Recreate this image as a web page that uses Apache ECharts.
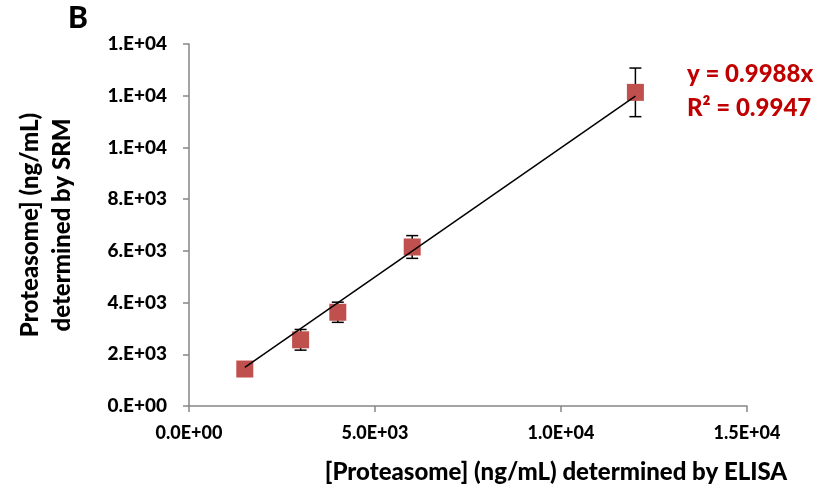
<!DOCTYPE html>
<html><head><meta charset="utf-8">
<script src="https://cdn.jsdelivr.net/npm/echarts@6/dist/echarts.min.js"></script>
<style>html,body{margin:0;padding:0;background:#fff}#c{width:834px;height:500px}</style>
</head><body><div id="c"></div>
<script>
// Data
const elisa = [1500, 3000, 4000, 6000, 12000];          // x: ELISA (ng/mL)
const srm = [1430, 2560, 3625, 6150, 12130];            // y: SRM (ng/mL)
const srmErr = [150, 400, 390, 440, 940];               // y error (+/-)
const trendX = [1500, 12000];                           // trend line extent
const slope = 0.9988;
const equationLines = ['y = 0.9988x', 'R\u00b2 = 0.9947'];
const yTickLabels = ['0.E+00', '2.E+03', '4.E+03', '6.E+03', '8.E+03', '1.E+04', '1.E+04', '1.E+04'];
const xTickLabels = ['0.0E+00', '5.0E+03', '1.0E+04', '1.5E+04'];

const FONT = 'Lato';
const W = 900;
const chart = echarts.init(document.getElementById('c'));
const axisLineStyle = { color: '#868686', width: 1.5 };

chart.setOption({
  animation: false,
  backgroundColor: '#fff',
  grid: { left: 189, right: 87, top: 44, bottom: 94 },
  xAxis: {
    type: 'value', min: 0, max: 15000, interval: 5000,
    axisLine: { show: true, lineStyle: axisLineStyle },
    axisTick: { show: true, length: 6, lineStyle: axisLineStyle },
    splitLine: { show: false },
    axisLabel: {
      fontFamily: FONT, fontWeight: W, fontSize: 18, color: '#000', margin: 18,
      formatter: v => xTickLabels[Math.round(v / 5000)]
    },
    name: '[Proteasome] (ng/mL) determined by ELISA',
    nameLocation: 'middle', nameGap: 54,
    nameTextStyle: { fontFamily: FONT, fontWeight: W, fontSize: 24, color: '#000', padding: [0, 0, 0, 176] }
  },
  yAxis: {
    type: 'value', min: 0, max: 14000, interval: 2000,
    axisLine: { show: true, lineStyle: axisLineStyle },
    axisTick: { show: true, length: 6, lineStyle: axisLineStyle },
    splitLine: { show: false },
    axisLabel: {
      fontFamily: FONT, fontWeight: W, fontSize: 19, color: '#000', margin: 22,
      formatter: v => yTickLabels[Math.round(v / 2000)]
    },
    name: 'Proteasome] (ng/mL)\ndetermined by SRM',
    nameLocation: 'middle', nameRotate: 90, nameGap: 111,
    nameTextStyle: { fontFamily: FONT, fontWeight: W, fontSize: 24, lineHeight: 32, color: '#000' }
  },
  graphic: [
    { type: 'text', left: 68, top: 3, style: { text: 'B', fontFamily: FONT, fontWeight: W, fontSize: 30, fill: '#000' } },
    { type: 'text', left: 687, top: 57, style: { text: equationLines.join('\n'), fontFamily: FONT, fontWeight: W, fontSize: 24, lineHeight: 34, fill: '#c00000' } }
  ],
  series: [
    {
      type: 'custom', z: 2,
      data: elisa.map((x, i) => [x, srm[i], srmErr[i]]),
      renderItem: function (params, api) {
        const x = api.value(0), y = api.value(1), e = api.value(2);
        const t = api.coord([x, y + e]);
        const b = api.coord([x, y - e]);
        const hw = 6;
        const st = { stroke: '#000', lineWidth: 1.5 };
        return {
          type: 'group', children: [
            { type: 'line', shape: { x1: t[0], y1: t[1], x2: b[0], y2: b[1] }, style: st },
            { type: 'line', shape: { x1: t[0] - hw, y1: t[1], x2: t[0] + hw, y2: t[1] }, style: st },
            { type: 'line', shape: { x1: b[0] - hw, y1: b[1], x2: b[0] + hw, y2: b[1] }, style: st }
          ]
        };
      }
    },
    {
      type: 'scatter', z: 3, symbol: 'rect', symbolSize: 17,
      itemStyle: { color: '#c0504d', opacity: 1 },
      data: elisa.map((x, i) => [x, srm[i]])
    },
    {
      type: 'line', z: 4, symbol: 'none',
      lineStyle: { color: '#000', width: 1.5 },
      data: trendX.map(x => [x, slope * x])
    }
  ]
});
</script>
</body></html>
